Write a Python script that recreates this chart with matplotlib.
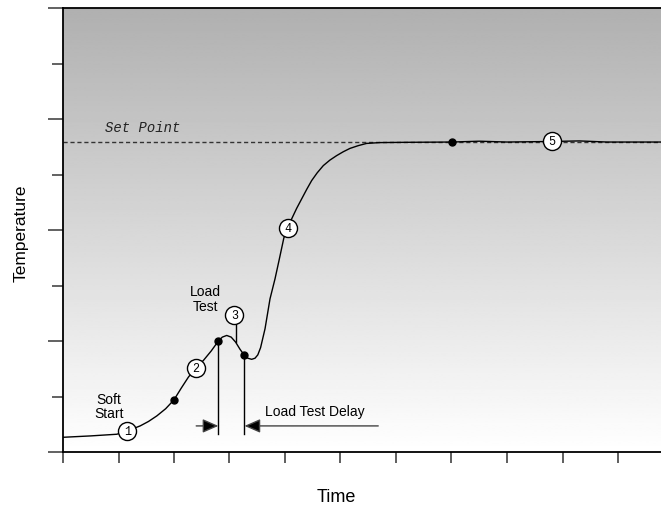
import numpy as np
import matplotlib
matplotlib.use("Agg")
import matplotlib.pyplot as plt

# ---- data ----
curve_x = [0.0, 0.50, 0.97, 1.16, 1.39, 1.54, 1.69, 1.85, 2.00, 2.13, 2.26,
           2.39, 2.53, 2.67, 2.80, 2.87, 2.95, 3.03, 3.11, 3.19, 3.27, 3.33,
           3.40, 3.46, 3.51, 3.56, 3.64, 3.73, 3.82, 3.89, 3.98, 4.06, 4.12,
           4.21, 4.30, 4.39, 4.48, 4.58, 4.69, 4.81, 4.93, 5.05, 5.17, 5.32,
           5.47, 5.71, 6.20, 7.01, 7.50, 8.00, 8.81, 9.30, 9.80, 10.78]
curve_y = [0.265, 0.29, 0.32, 0.38, 0.47, 0.55, 0.65, 0.78, 0.94, 1.15, 1.35,
           1.51, 1.65, 1.82, 2.00, 2.07, 2.10, 2.07, 1.98, 1.85, 1.74, 1.69,
           1.67, 1.69, 1.75, 1.88, 2.22, 2.76, 3.12, 3.44, 3.86, 4.03, 4.20,
           4.39, 4.56, 4.73, 4.89, 5.03, 5.16, 5.26, 5.34, 5.41, 5.47, 5.52,
           5.56, 5.575, 5.58, 5.585, 5.60, 5.585, 5.595, 5.605, 5.585, 5.585]

set_point = 5.585

dot_x = [2.00, 2.80, 3.27, 7.01]
dot_y = [0.94, 2.00, 1.74, 5.585]

circle_labels = ["1", "2", "3", "4", "5"]
circle_x = [1.16, 2.39, 3.09, 4.06, 8.81]
circle_y = [0.38, 1.51, 2.47, 4.03, 5.595]

delay_start = 2.80
delay_end = 3.27

x_ticks = list(range(0, 11))
y_major = [0, 2, 4, 6, 8]
y_minor = [1, 3, 5, 7]

# ---- figure ----
W, H = 661, 506
fig = plt.figure(figsize=(W / 100, H / 100), dpi=100)
ax = fig.add_axes([63 / W, (H - 453) / H, 1 - 63 / W, (453 - 9) / H])
ax.set_xlim(0, (W - 63) / 55.5)
ax.set_ylim(0, 8)

# gradient background
grad = np.linspace(176, 255, 256).reshape(-1, 1) / 255.0
ax.imshow(grad, cmap="gray", vmin=0, vmax=1, extent=[0, 1, 0, 1],
          transform=ax.transAxes, aspect="auto", zorder=0,
          interpolation="bilinear", origin="upper")

# set point line
sp, = ax.plot([0, ax.get_xlim()[1]], [set_point, set_point], color="#333333",
              lw=1.0, zorder=2)
sp.set_dashes([3, 2])
ax.text(0.76, set_point + 0.15, "Set Point", family="Liberation Mono",
        style="italic", fontsize=10, ha="left", va="bottom", color="#222222")

# curve
ax.plot(curve_x, curve_y, color="black", lw=1.0, zorder=3,
        solid_joinstyle="round")

# load test delay lines
ax.plot([delay_start, delay_start], [dot_y[1], 0.32], color="black", lw=1.0, zorder=3)
ax.plot([delay_end, delay_end], [dot_y[2], 0.32], color="black", lw=1.0, zorder=3)
arrow_kw = dict(arrowstyle="-|>,head_length=0.8,head_width=0.35",
                mutation_scale=12, lw=1.0, shrinkA=0, shrinkB=0,
                ec="#444444", fc="black")
ax.annotate("", xy=(delay_start, 0.47), xytext=(2.40, 0.47),
            arrowprops=arrow_kw, zorder=3)
ax.annotate("", xy=(delay_end, 0.47), xytext=(5.68, 0.47),
            arrowprops=arrow_kw, zorder=3)

# leader for circle 3
ax.plot([3.11, 3.11], [circle_y[2] - 0.16, 1.98], color="black", lw=1.0, zorder=3)

# dots
ax.plot(dot_x, dot_y, "o", color="black", ms=5, zorder=4)

# numbered circles
ax.plot(circle_x, circle_y, "o", mfc="white", mec="black", mew=1.0, ms=13,
        zorder=5, ls="none")
for lab, cx, cy in zip(circle_labels, circle_x, circle_y):
    ax.text(cx, cy, lab, family="Liberation Mono", fontsize=8.5, ha="center",
            va="center", zorder=6)

# annotations
sans = "Liberation Sans"
ax.text(0.83, 0.83, "Soft\nStart", family=sans, fontsize=10, ha="center",
        va="center", linespacing=1.05)
ax.text(2.56, 2.77, "Load\nTest", family=sans, fontsize=10, ha="center",
        va="center", linespacing=1.05)
ax.text(4.53, 0.73, "Load Test Delay", family=sans, fontsize=10, ha="center",
        va="center")

# axes styling
for s in ["left", "bottom", "top"]:
    ax.spines[s].set_color("black")
    ax.spines[s].set_linewidth(1.3)
ax.spines["right"].set_visible(False)

ax.set_xticks(x_ticks)
ax.set_yticks(y_major)
ax.set_yticks(y_minor, minor=True)
ax.tick_params(axis="x", direction="out", length=8, width=1.1, color="#333333",
               labelbottom=False)
ax.tick_params(axis="y", which="major", direction="out", length=11, width=1.3,
               color="#555555", labelleft=False)
ax.tick_params(axis="y", which="minor", direction="out", length=8, width=1.3,
               color="#555555", labelleft=False)

fig.text(21 / W, 1 - 233 / H, "Temperature", family=sans, fontsize=12.5,
         rotation=90, ha="center", va="center")
fig.text(336.5 / W, 1 - 498 / H, "Time", family=sans, fontsize=13, ha="center",
         va="center")

fig.savefig("out.png", dpi=100)
